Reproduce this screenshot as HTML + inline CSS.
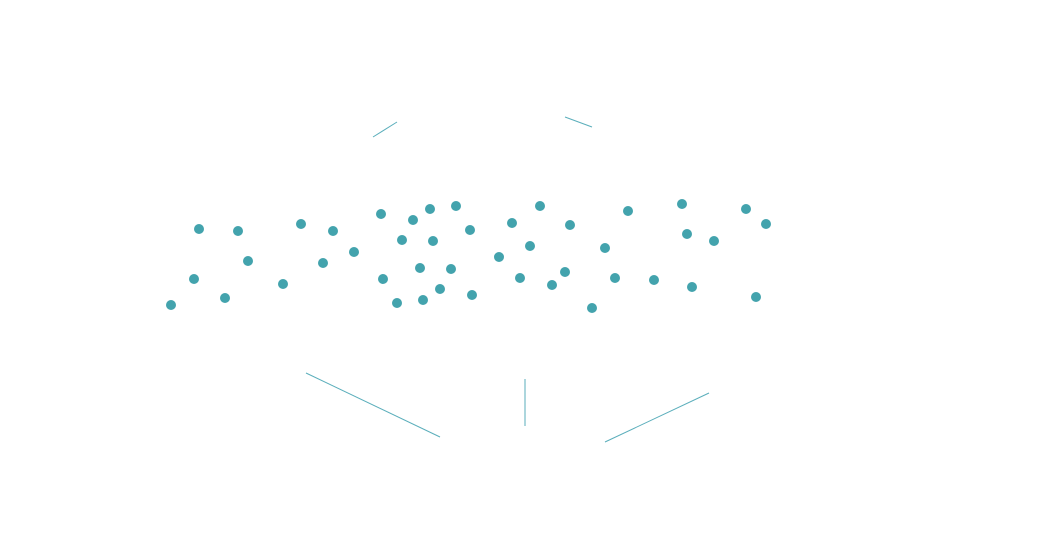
<!DOCTYPE html>
<html><head><meta charset="utf-8"><style>html,body{margin:0;padding:0;background:#fff}svg{display:block}</style></head>
<body>
<svg width="1056" height="556" viewBox="0 0 1056 556" xmlns="http://www.w3.org/2000/svg">
<g stroke="#5aaebb" stroke-width="1" fill="none">
<line x1="373" y1="137" x2="397" y2="122"/>
<line x1="565" y1="117" x2="592" y2="127"/>
<line x1="306" y1="373" x2="440" y2="437"/>
<line x1="525" y1="379" x2="525" y2="426"/>
<line x1="605" y1="442" x2="709" y2="393"/>
</g>
<g fill="#43a3ad">
<circle cx="199" cy="229" r="5"/><circle cx="238" cy="231" r="5"/><circle cx="301" cy="224" r="5"/><circle cx="333" cy="231" r="5"/><circle cx="381" cy="214" r="5"/><circle cx="413" cy="220" r="5"/><circle cx="430" cy="209" r="5"/><circle cx="456" cy="206" r="5"/><circle cx="470" cy="230" r="5"/><circle cx="512" cy="223" r="5"/><circle cx="540" cy="206" r="5"/><circle cx="570" cy="225" r="5"/><circle cx="628" cy="211" r="5"/><circle cx="682" cy="204" r="5"/><circle cx="746" cy="209" r="5"/><circle cx="766" cy="224" r="5"/>
<circle cx="248" cy="261" r="5"/><circle cx="402" cy="240" r="5"/><circle cx="433" cy="241" r="5"/><circle cx="354" cy="252" r="5"/><circle cx="323" cy="263" r="5"/><circle cx="499" cy="257" r="5"/><circle cx="530" cy="246" r="5"/><circle cx="605" cy="248" r="5"/><circle cx="687" cy="234" r="5"/><circle cx="714" cy="241" r="5"/>
<circle cx="194" cy="279" r="5"/><circle cx="283" cy="284" r="5"/><circle cx="383" cy="279" r="5"/><circle cx="420" cy="268" r="5"/><circle cx="451" cy="269" r="5"/><circle cx="520" cy="278" r="5"/><circle cx="565" cy="272" r="5"/><circle cx="615" cy="278" r="5"/><circle cx="654" cy="280" r="5"/><circle cx="692" cy="287" r="5"/>
<circle cx="171" cy="305" r="5"/><circle cx="225" cy="298" r="5"/><circle cx="397" cy="303" r="5"/><circle cx="423" cy="300" r="5"/><circle cx="440" cy="289" r="5"/><circle cx="472" cy="295" r="5"/><circle cx="552" cy="285" r="5"/><circle cx="592" cy="308" r="5"/><circle cx="756" cy="297" r="5"/>
</g>
</svg>
</body></html>
